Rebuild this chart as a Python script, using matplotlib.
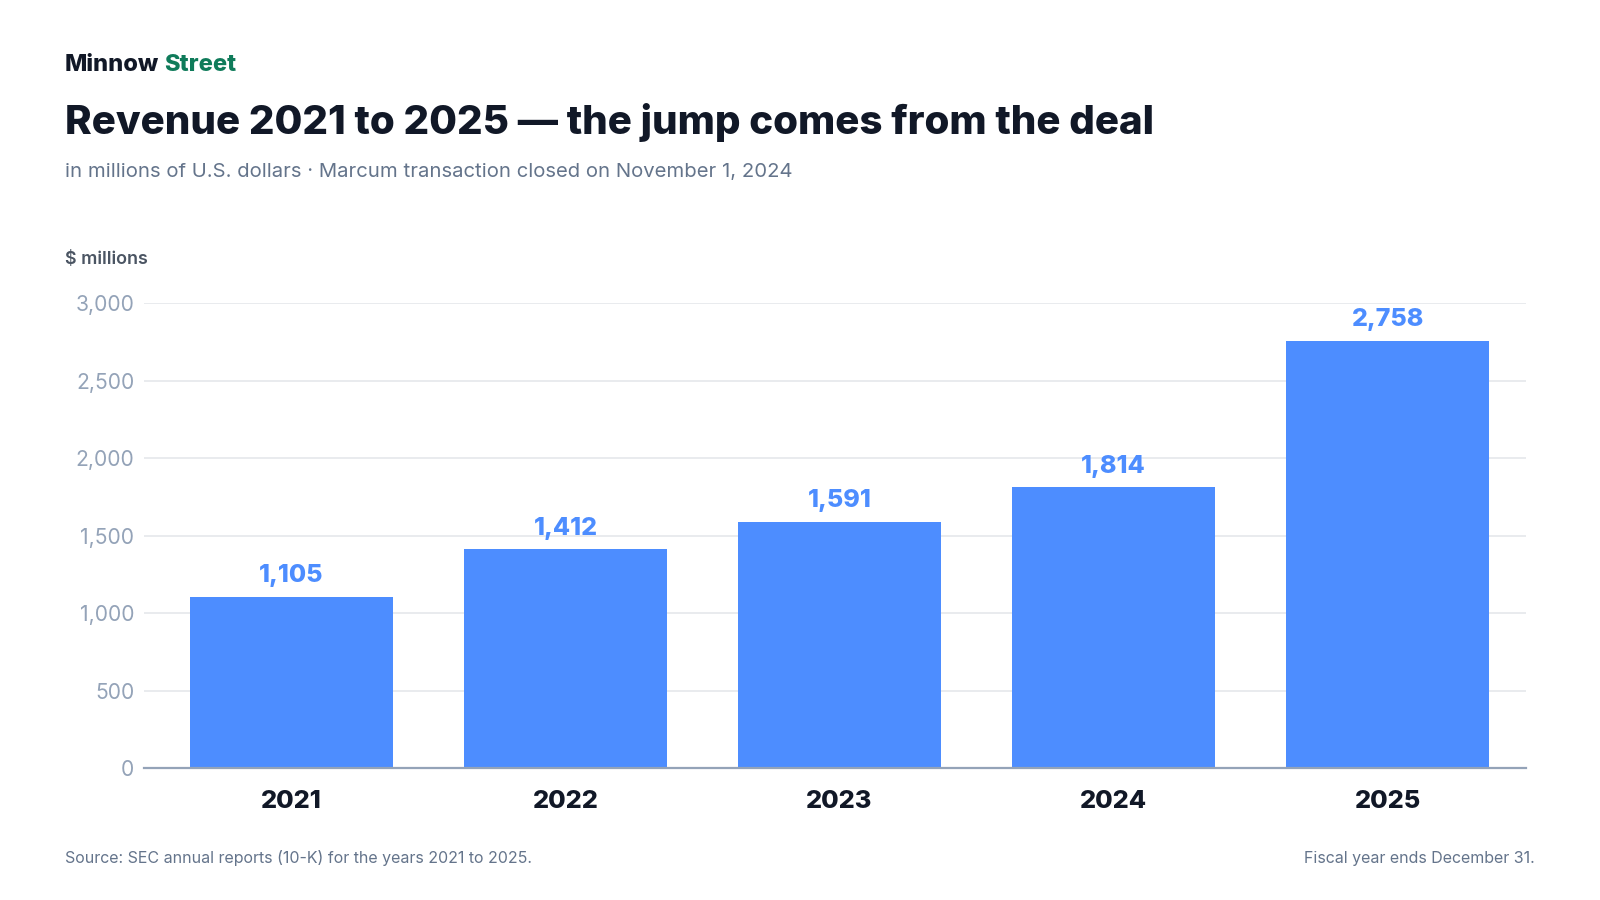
import matplotlib
matplotlib.use("Agg")
import matplotlib.pyplot as plt
from matplotlib.ticker import FuncFormatter

plt.rcParams['font.family'] = ['Inter', 'DejaVu Sans']

years   = ['2021', '2022', '2023', '2024', '2025']
revenue = [1105, 1412, 1591, 1814, 2758]
y_ticks = [0, 500, 1000, 1500, 2000, 2500, 3000]

DARK  = '#111827'
GREEN = '#0f7b5a'
SLATE = '#64748b'
MUTED = '#94a3b8'
BLUE  = '#4d8dff'
GRID  = '#e5e7eb'

fig = plt.figure(figsize=(16, 9), dpi=100)
ax = fig.add_axes([0.09, 0.1467, 0.8638, 0.5161])

x = range(len(years))
bars = ax.bar(x, revenue, width=0.74, color=BLUE, zorder=2)

for xi, v in zip(x, revenue):
    ax.annotate(f"{v:,}", xy=(xi, v), xytext=(0, 10.5), textcoords='offset points',
                ha='center', va='baseline', fontsize=18, fontweight='heavy',
                color=BLUE, annotation_clip=False)

ax.set_xlim(-0.538, 4.505)
ax.set_ylim(0, 3000)
ax.set_yticks(y_ticks)
ax.yaxis.set_major_formatter(FuncFormatter(lambda v, p: f"{int(v):,}"))
ax.set_xticks(list(x))
ax.set_xticklabels(years)

ax.grid(axis='y', color=GRID, linewidth=1.2, zorder=0)
ax.set_axisbelow(True)
for s in ['top', 'right', 'left']:
    ax.spines[s].set_visible(False)
ax.spines['bottom'].set_color(MUTED)
ax.spines['bottom'].set_linewidth(1.6)
ax.spines['bottom'].set_zorder(3)

ax.tick_params(axis='y', length=0, pad=7, labelsize=15.2, labelcolor=MUTED)
ax.tick_params(axis='x', length=0, pad=16, labelsize=18.2, labelcolor=DARK)
for lbl in ax.get_xticklabels():
    lbl.set_fontweight('heavy')

# header
brand = fig.text(0.0406, 0.921, "Minnow", fontsize=17, fontweight='heavy',
                 color=DARK, va='baseline')
ax.annotate("Street", xy=(1, 0), xycoords=brand, xytext=(3.5, 0),
            textcoords='offset points', fontsize=17, fontweight='heavy',
            color=GREEN, va='bottom', annotation_clip=False)
fig.text(0.0406, 0.851, "Revenue 2021 to 2025 \u2014 the jump comes from the deal",
         fontsize=29, fontweight='heavy', color=DARK, va='baseline')
fig.text(0.0406, 0.803,
         "in millions of U.S. dollars \u00b7 Marcum transaction closed on November 1, 2024",
         fontsize=14.6, color=SLATE, va='baseline')
fig.text(0.0406, 0.7067, "$ millions", fontsize=12.9, fontweight='semibold',
         color='#4b5563', va='baseline')

# footer
fig.text(0.0406, 0.041, "Source: SEC annual reports (10-K) for the years 2021 to 2025.",
         fontsize=11.5, color=SLATE, va='baseline')
fig.text(0.9594, 0.041, "Fiscal year ends December 31.",
         fontsize=11.5, color=SLATE, va='baseline', ha='right')

fig.savefig("out.png", dpi=100, facecolor='white')
